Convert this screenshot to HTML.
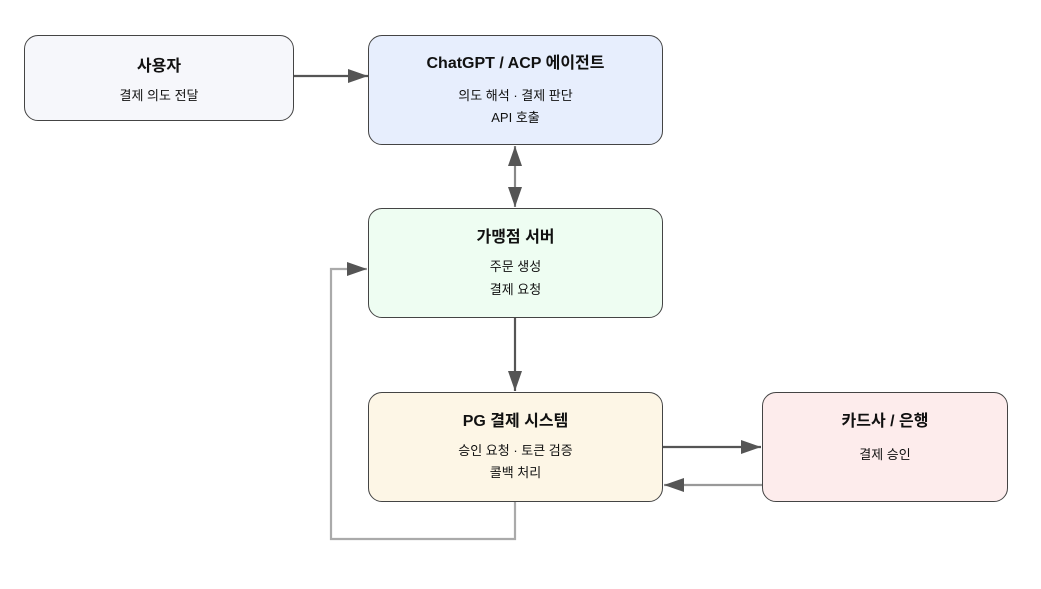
<!DOCTYPE html>
<html><head><meta charset="utf-8"><style>
body{margin:0;width:1041px;height:589px;background:#fff;overflow:hidden;font-family:"Liberation Sans","Noto Sans CJK KR",sans-serif;}
svg{position:absolute;left:0;top:0}
.b{position:absolute;box-sizing:border-box;border:1.3px solid #444;border-radius:14px;text-align:center;color:#111}
.t{position:absolute;left:0;right:0;font-weight:bold;font-size:16px;line-height:20px}
.s{position:absolute;left:0;right:0;font-size:13px;line-height:18px}
</style></head><body>
<svg width="1041" height="589">
<defs><marker id="a" markerWidth="10" markerHeight="10" refX="9" refY="5" orient="auto" markerUnits="userSpaceOnUse" viewBox="0 0 10 10"><path d="M0,0L10,5L0,10z" fill="#555"/></marker>
<marker id="h" viewBox="0 0 20 14" refX="20" refY="7" markerWidth="20" markerHeight="14" orient="auto-start-reverse" markerUnits="userSpaceOnUse"><path d="M0,0L20,7L0,14z" fill="#555"/></marker></defs>
<g fill="none" stroke-width="2.2">
<path d="M294,76H368" stroke="#555" marker-end="url(#h)"/>
<path d="M515,146V207" stroke="#888" marker-start="url(#h)" marker-end="url(#h)"/>
<path d="M515,318V391" stroke="#555" marker-end="url(#h)"/>
<path d="M663,447H761" stroke="#555" marker-end="url(#h)"/>
<path d="M762,485H664" stroke="#999" marker-end="url(#h)"/>
<path d="M515,502V539H331V269H367" stroke="#aaa" marker-end="url(#h)"/>
</g></svg>
<div class="b" style="left:24px;top:35px;width:270px;height:86px;background:#f6f7fb"><div class="t" style="top:21px">사용자</div><div class="s" style="top:51px">결제 의도 전달</div></div>
<div class="b" style="left:368px;top:35px;width:295px;height:110px;background:#e7eefd"><div class="t" style="top:18px">ChatGPT / ACP 에이전트</div><div class="s" style="top:51px">의도 해석 · 결제 판단</div><div class="s" style="top:73px">API 호출</div></div>
<div class="b" style="left:368px;top:208px;width:295px;height:110px;background:#eefdf2"><div class="t" style="top:19px">가맹점 서버</div><div class="s" style="top:49px">주문 생성</div><div class="s" style="top:72px">결제 요청</div></div>
<div class="b" style="left:368px;top:392px;width:295px;height:110px;background:#fdf6e6"><div class="t" style="top:19px">PG 결제 시스템</div><div class="s" style="top:49px">승인 요청 · 토큰 검증</div><div class="s" style="top:71px">콜백 처리</div></div>
<div class="b" style="left:762px;top:392px;width:246px;height:110px;background:#fdecec"><div class="t" style="top:19px">카드사 / 은행</div><div class="s" style="top:53px">결제 승인</div></div>
</body></html>
